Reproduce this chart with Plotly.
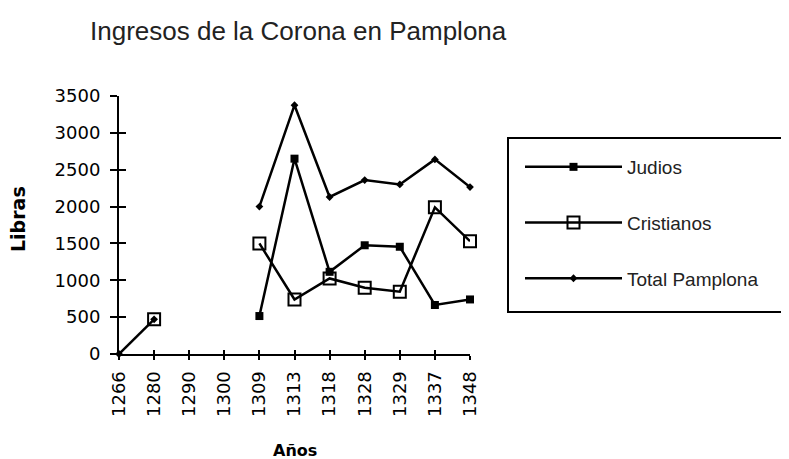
import plotly.graph_objects as go

years = ["1266", "1280", "1290", "1300", "1309", "1313", "1318", "1328", "1329", "1337", "1348"]
judios = [None, None, None, None, 515, 2650, 1115, 1475, 1455, 665, 740]
cristianos = [None, 470, None, None, 1500, 740, 1025, 900, 845, 1990, 1530]
total = [0, 470, None, None, 2000, 3375, 2130, 2360, 2300, 2640, 2265]
y_ticks = [0, 500, 1000, 1500, 2000, 2500, 3000, 3500]

# page body has an 8px margin; work in reference pixel coords and subtract it
OFF = 8
W, H = 789 - OFF, 459 - OFF
L, R, T, B = 119, 470, 96, 354  # plot area in reference px
pw, ph = R - L, B - T


def px(x):
    return (x - L) / pw


def py(y):
    return (B - y) / ph


fig = go.Figure()
fig.add_trace(go.Scatter(
    x=years, y=judios, name="Judios", mode="lines+markers",
    line=dict(color="black", width=2.5),
    marker=dict(symbol="square", size=8, color="black"),
    legendgroup="a", cliponaxis=False))
fig.add_trace(go.Scatter(
    x=years, y=cristianos, name="Cristianos", mode="lines+markers",
    line=dict(color="black", width=2.5),
    marker=dict(symbol="square-open", size=12, color="black", line=dict(width=2)),
    legendgroup="b", cliponaxis=False))
fig.add_trace(go.Scatter(
    x=years, y=total, name="Total Pamplona", mode="lines+markers",
    line=dict(color="black", width=2.5),
    marker=dict(symbol="diamond", size=6, color="black"),
    legendgroup="c", cliponaxis=False))

# overlay axes for crossing ticks
fig.add_trace(go.Scatter(x=years, y=[None]*len(years), xaxis="x2", yaxis="y2",
                         showlegend=False, hoverinfo="skip"))

tickfont = dict(family="DejaVu Sans", size=18, color="black")
fig.update_layout(
    width=W, height=H,
    margin=dict(l=L - OFF, r=W - (R - OFF), t=T - OFF, b=H - (B - OFF)),
    paper_bgcolor="white", plot_bgcolor="white",
    title=dict(text="Ingresos de la Corona en Pamplona", x=(90 - OFF) / W, xanchor="left",
               y=1 - (31 - OFF) / H, yanchor="middle",
               font=dict(family="Liberation Sans", size=26, color="#222")),
    xaxis=dict(type="category", categoryorder="array", categoryarray=years,
               range=[0, 10], showgrid=False, zeroline=False,
               showline=True, linecolor="black", linewidth=2,
               ticks="outside", ticklen=4, tickwidth=2, tickcolor="black",
               tickangle=-90, tickfont=tickfont, ticklabelstandoff=4),
    yaxis=dict(range=[0, 3500], tickvals=y_ticks, showgrid=False, zeroline=False,
               showline=True, linecolor="black", linewidth=2,
               ticks="outside", ticklen=7, tickwidth=2, tickcolor="black",
               tickfont=tickfont, ticklabelstandoff=6),
    xaxis2=dict(type="category", categoryorder="array", categoryarray=years,
                range=[0, 10], overlaying="x", showgrid=False,
                zeroline=False, showline=False, ticks="inside", ticklen=4,
                tickwidth=2, tickcolor="black", showticklabels=False),
    yaxis2=dict(range=[0, 3500], tickvals=y_ticks, overlaying="y", showgrid=False,
                zeroline=False, showline=False, ticks="inside", ticklen=7,
                tickwidth=2, tickcolor="black", showticklabels=False),
    legend=dict(x=px(520), xanchor="left", y=py(148), yanchor="top",
                borderwidth=0, bgcolor="rgba(0,0,0,0)",
                font=dict(family="Liberation Sans", size=19, color="#222"),
                itemwidth=97, tracegroupgap=28, itemsizing="trace"),
    showlegend=True,
    shapes=[dict(type="rect", xref="paper", yref="paper",
                 x0=px(508), x1=px(787), y0=py(312), y1=py(138),
                 line=dict(color="black", width=2), fillcolor="white", layer="below")],
    annotations=[
        dict(text="<b>Años</b>", x=px(295), y=py(450), xref="paper", yref="paper",
             xanchor="center", yanchor="middle", showarrow=False,
             font=dict(family="DejaVu Sans", size=16, color="black")),
        dict(text="<b>Libras</b>", textangle=-90, x=px(18), y=py(219),
             xref="paper", yref="paper", xanchor="center", yanchor="middle",
             showarrow=False, font=dict(family="DejaVu Sans", size=19, color="black")),
    ],
)

fig.write_html("out.html")
